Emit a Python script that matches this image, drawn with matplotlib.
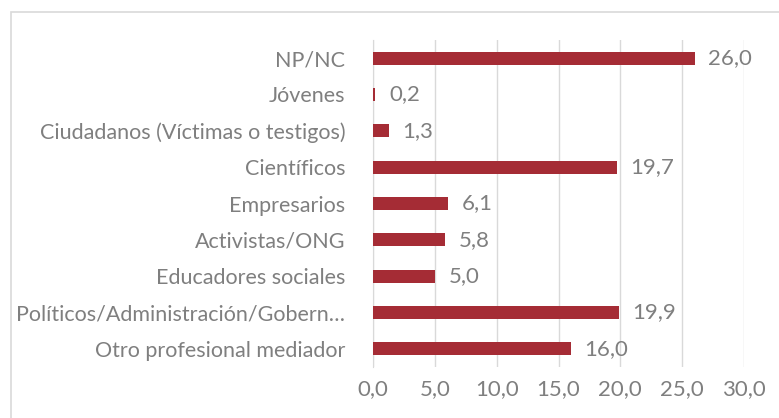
import matplotlib.pyplot as plt
from matplotlib.patches import Rectangle

# data (top to bottom as shown)
categories = ["NP/NC", "Jóvenes", "Ciudadanos (Víctimas o testigos)", "Científicos",
              "Empresarios", "Activistas/ONG", "Educadores sociales",
              "Políticos/Administración/Gobern…", "Otro profesional mediador"]
values = [26.0, 0.2, 1.3, 19.7, 6.1, 5.8, 5.0, 19.9, 16.0]
xticks = [0, 5, 10, 15, 20, 25, 30]

bar_color = "#A52C35"
text_color = "#7F7F7F"

plt.rcParams["font.family"] = ["Lato", "DejaVu Sans"]

fig = plt.figure(figsize=(7.79, 4.18), dpi=100)
ax = fig.add_axes([373 / 779, 1 - 367 / 418, (744 - 373) / 779, (367 - 40) / 418])

# light frame around the chart area
fig.patches.append(Rectangle((11 / 779, -0.1), 1.2, 1.1 - 12 / 418, transform=fig.transFigure,
                             fill=False, edgecolor="#D9D9D9", linewidth=1.2))

ypos = list(range(len(categories)))[::-1]
ax.barh(ypos, values, height=0.36, color=bar_color, zorder=3)

for y, v in zip(ypos, values):
    ax.text(v + 1.1, y, f"{v:.1f}".replace(".", ","), va="center", ha="left",
            fontsize=16, color=text_color)

ax.set_xlim(0, 30)
ax.set_ylim(-0.5, len(categories) - 0.5)
ax.set_xticks(xticks)
ax.set_xticklabels([f"{t:.1f}".replace(".", ",") for t in xticks])
ax.set_yticks(ypos)
ax.set_yticklabels(categories)

ax.grid(axis="x", color="#D9D9D9", linewidth=1, zorder=0)
for s in ["top", "right", "bottom"]:
    ax.spines[s].set_visible(False)
ax.spines["left"].set_color("#D9D9D9")
ax.tick_params(axis="both", length=0, colors=text_color, labelsize=16)
ax.tick_params(axis="y", pad=20, labelsize=15.5)
ax.tick_params(axis="x", pad=9)

fig.savefig("out.png", dpi=100)
